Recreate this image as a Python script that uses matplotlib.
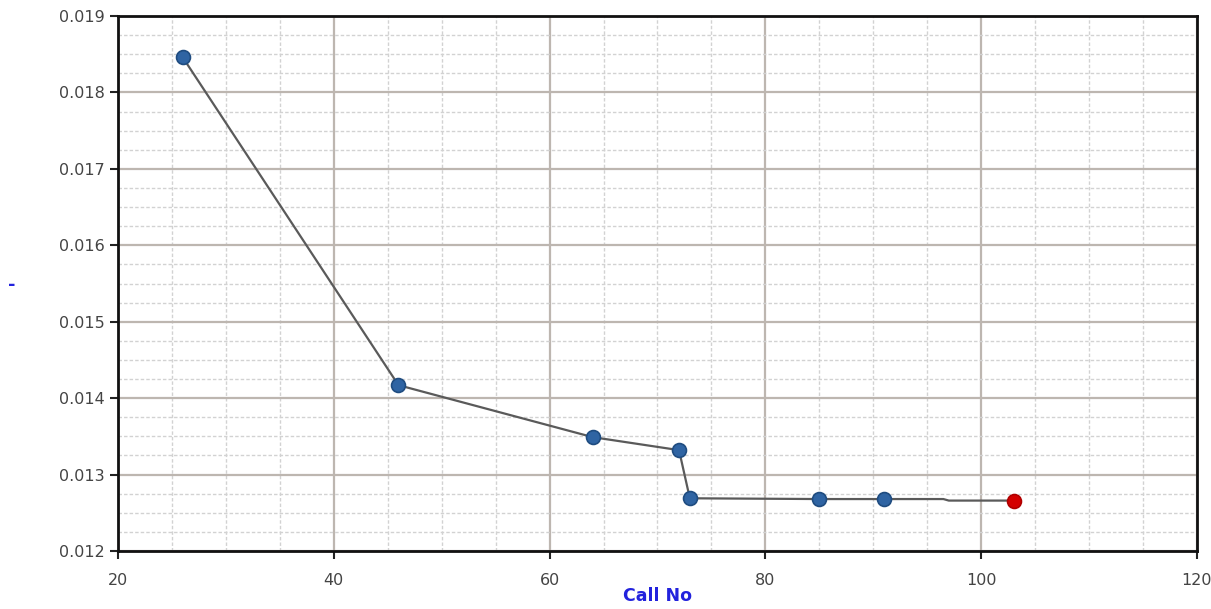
import matplotlib.pyplot as plt
from matplotlib.ticker import MultipleLocator

# Objective value per call number
call_no = [26, 46, 64, 72, 73, 85, 91, 96.5, 97, 103]
objective = [0.01846, 0.01417, 0.01349, 0.01332, 0.01269, 0.01268, 0.01268, 0.01268, 0.01266, 0.01266]
# calls that get a marker (96.5 / 97 are only a bend in the line)
marked_calls = [26, 46, 64, 72, 73, 85, 91]
best_call = 103

fig = plt.figure(figsize=(12.11, 6.09), dpi=100)
ax = fig.add_axes([0.0974, 0.0952, 0.8910, 0.8785])

ax.plot(call_no, objective, color="#5a5a5a", linewidth=1.6, zorder=3)

marked_vals = [objective[call_no.index(c)] for c in marked_calls]
ax.plot(marked_calls, marked_vals, linestyle="none", marker="o", markersize=10,
        markerfacecolor="#2f64a3", markeredgecolor="#1f4c80", markeredgewidth=1.2, zorder=4)
ax.plot([best_call], [objective[call_no.index(best_call)]], linestyle="none", marker="o",
        markersize=10, markerfacecolor="#d40000", markeredgecolor="#b00000",
        markeredgewidth=1.2, zorder=4)

ax.set_xlim(20, 120)
ax.set_ylim(0.012, 0.019)
ax.xaxis.set_major_locator(MultipleLocator(20))
ax.xaxis.set_minor_locator(MultipleLocator(5))
ax.yaxis.set_major_locator(MultipleLocator(0.001))
ax.yaxis.set_minor_locator(MultipleLocator(0.00025))
ax.yaxis.set_major_formatter(plt.FuncFormatter(lambda v, p: f"{v:.3f}"))

ax.grid(which="major", color="#bdb6b0", linewidth=1.6, zorder=1)
ax.grid(which="minor", color="#d2d2d2", linewidth=1.0, linestyle=(0, (2.5, 1.5)), zorder=1)
ax.set_axisbelow(True)

for side in ["left", "bottom", "right", "top"]:
    ax.spines[side].set_linewidth(2)
    ax.spines[side].set_color("#111111")

ax.tick_params(which="major", direction="out", length=6, width=1.5, color="#222222",
               labelsize=11.5, labelcolor="#444444", top=False, right=False)
ax.tick_params(which="minor", length=0)
ax.tick_params(axis="x", pad=10)

ax.set_xlabel("Call No", color="#2222dd", fontsize=12.5, fontweight="bold", va="center")
ax.xaxis.set_label_coords(0.5, -0.084)
ax.set_ylabel("-", color="#2222dd", fontsize=13, fontweight="bold", rotation=0, va="center")
ax.yaxis.set_label_coords(-0.098, 0.497)

fig.savefig("out.png", dpi=100)
